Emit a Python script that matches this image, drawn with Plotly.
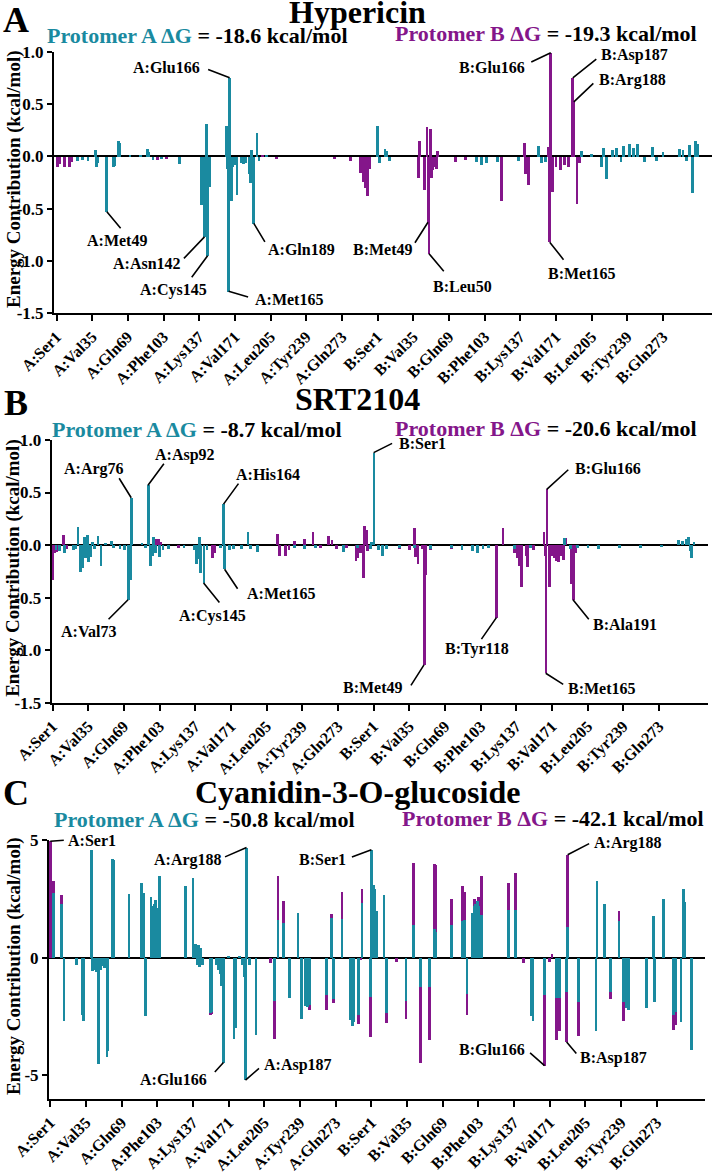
import plotly.graph_objects as go

W, H = 714, 1172
TEAL = "#1a8aa0"
PURPLE = "#84168a"
FONT = "Liberation Serif"

# residue ticks (every 34 residues, chain A then chain B)
tick_pos = list(range(0, 579, 34))
tick_text = ["A:Ser1", "A:Val35", "A:Gln69", "A:Phe103", "A:Lys137", "A:Val171",
             "A:Leu205", "A:Tyr239", "A:Gln273", "B:Ser1", "B:Val35", "B:Gln69",
             "B:Phe103", "B:Lys137", "B:Val171", "B:Leu205", "B:Tyr239", "B:Gln273"]

# (residue index, kcal/mol) -- index 0..305 chain A, 306..611 chain B
hyp_protA = [(20, -0.04), (25, -0.03), (30, -0.04), (37, 0.06), (38, -0.10), (39, -0.06),
             (48, -0.53), (54, -0.10), (55, -0.09), (59, 0.15), (60, 0.13), (70, 0.02),
             (80, 0.02), (87, 0.07), (88, 0.04), (92, -0.03), (100, -0.02), (117, -0.07),
             (138, -0.46), (140, -0.30), (141, -0.77), (143, 0.31), (144, -0.95), (146, -0.29),
             (162, 0.29), (163, -0.12), (164, -1.29), (165, 0.75), (167, -0.42), (168, -0.10),
             (170, -0.08), (172, -0.37), (176, -0.06), (178, -0.07), (180, -0.06), (184, -0.17),
             (185, -0.25), (186, 0.06), (188, -0.64), (191, 0.23), (193, -0.04), (200, 0.02),
             (306, 0.29), (308, -0.06), (313, 0.07), (315, 0.05), (317, -0.04), (400, -0.05),
             (405, -0.08), (410, -0.06), (420, -0.05), (440, -0.04), (459, 0.10), (462, -0.06),
             (466, -0.05), (500, 0.05), (510, 0.03), (519, -0.10), (521, 0.08), (524, -0.21),
             (530, 0.06), (534, 0.08), (538, -0.05), (540, 0.10), (546, 0.12), (550, 0.08),
             (554, 0.12), (560, -0.05), (568, 0.09), (572, -0.04), (578, 0.04), (594, 0.07),
             (597, 0.06), (600, -0.04), (603, 0.11), (606, -0.35), (609, 0.15), (611, 0.12)]
hyp_protB = [(1, -0.10), (3, -0.07), (8, -0.10), (12, -0.10), (14, -0.05), (96, -0.03),
             (105, -0.02), (196, 0.02), (210, -0.02), (265, -0.02), (280, -0.04),
             (290, -0.16), (292, -0.24), (294, -0.30), (296, -0.38), (298, -0.12),
             (345, -0.20), (346, 0.15), (351, -0.32), (353, 0.28), (354, -0.63), (355, -0.93),
             (356, 0.26), (357, -0.20), (358, -0.13), (360, -0.10), (362, -0.12), (363, 0.05),
             (380, -0.05), (390, -0.03), (424, -0.42), (440, -0.04), (446, 0.13), (447, -0.17),
             (450, -0.27), (469, 0.09), (470, -0.82), (471, 0.99), (473, -0.34), (476, -0.10),
             (480, -0.13), (484, -0.08), (488, -0.10), (492, 0.75), (493, 0.52), (496, -0.45),
             (498, -0.06)]

srt_protA = [(3, -0.05), (6, -0.06), (11, -0.08), (20, -0.05), (22, -0.04), (24, 0.17),
             (26, -0.26), (28, -0.22), (30, 0.08), (31, -0.12), (33, 0.10), (34, -0.16),
             (36, -0.11), (38, 0.03), (40, -0.04), (43, 0.09), (46, -0.20), (50, 0.02),
             (56, 0.04), (58, -0.03), (64, -0.04), (68, -0.05), (72, -0.52), (74, -0.33),
             (75, 0.45), (85, 0.02), (88, -0.03), (91, 0.57), (93, -0.20), (95, -0.10),
             (96, 0.08), (98, -0.08), (102, -0.11), (105, -0.05), (110, -0.04), (125, -0.03),
             (135, -0.05), (137, -0.18), (139, -0.13), (140, 0.08), (141, -0.27), (144, -0.36),
             (147, -0.05), (160, -0.03), (163, 0.39), (164, -0.23), (168, -0.05), (172, -0.04),
             (180, -0.04), (186, 0.12), (188, -0.04), (195, -0.07), (230, -0.03), (240, -0.04),
             (250, -0.03), (277, -0.07), (290, -0.03), (303, -0.04), (304, 0.03), (306, 0.88),
             (310, -0.05), (314, -0.10), (318, -0.04), (330, -0.03), (345, -0.03), (360, -0.04),
             (380, -0.03), (390, -0.05), (400, -0.06), (405, -0.08), (410, -0.04), (415, -0.03),
             (440, -0.04), (455, -0.03), (488, 0.07), (493, -0.04), (500, -0.03), (510, -0.03),
             (520, -0.04), (540, -0.03), (560, -0.03), (580, -0.02), (596, 0.05), (600, 0.04),
             (604, 0.06), (606, 0.08), (608, -0.06), (609, -0.12), (611, 0.03)]
srt_protB = [(0, -0.33), (2, -0.08), (4, -0.07), (6, -0.06), (10, 0.10), (13, -0.04),
             (99, 0.06), (101, 0.06), (103, 0.03), (120, -0.03), (152, -0.12), (154, -0.08),
             (214, 0.11), (216, -0.10), (222, -0.10), (225, -0.05), (230, 0.04), (240, 0.06),
             (248, 0.12), (255, -0.03), (263, 0.09), (266, 0.05), (270, -0.04), (280, -0.03),
             (289, -0.15), (290, -0.12), (293, -0.08), (296, -0.31), (297, 0.18), (299, 0.14),
             (300, -0.06), (330, -0.04), (340, -0.05), (345, 0.16), (346, -0.11), (348, -0.18),
             (352, -0.04), (354, -1.14), (355, -0.28), (360, -0.05), (380, -0.04), (400, -0.04),
             (423, -0.69), (429, 0.16), (440, -0.08), (443, -0.12), (445, -0.20), (447, -0.40),
             (451, -0.10), (452, -0.21), (458, -0.05), (468, 0.12), (469, -0.10), (470, -1.22),
             (471, 0.53), (473, -0.40), (476, -0.10), (478, -0.12), (480, -0.15), (482, -0.16),
             (485, -0.10), (487, -0.14), (489, 0.07), (494, -0.37), (496, -0.52), (498, -0.08)]

cya_protA = [(3, 2.75), (11, 2.30), (13, -2.70), (25, -0.30), (31, -2.45), (32, -2.70),
             (39, 4.58), (40, -0.55), (41, -0.50), (43, -0.45), (44, -0.60), (46, -4.50),
             (48, -0.50), (50, -0.35), (52, -0.45), (54, -4.20), (55, -3.95), (59, 4.20),
             (60, 4.15), (75, 2.70), (87, 3.17), (89, 2.75), (91, -2.48), (96, 2.56),
             (97, 2.18), (98, 1.97), (99, 2.30), (100, 2.46), (101, 2.00), (102, 2.10),
             (104, 3.49), (129, 3.03), (136, 3.38), (138, 0.60), (139, 0.55), (140, -0.30),
             (141, 0.56), (142, -0.40), (143, 0.40), (145, -0.30), (153, -2.35), (154, -2.30),
             (158, -0.30), (160, -0.50), (162, -0.70), (163, -1.20), (165, -4.45), (170, 0.05),
             (175, -3.45), (177, -3.00), (180, 0.08), (183, -0.30), (185, -0.80), (186, -5.20),
             (187, 4.68), (190, -0.30), (196, -3.30), (214, -1.85), (217, 1.59), (222, 1.49),
             (228, -1.72), (236, 1.92), (239, -2.60), (243, -2.07), (245, -2.10), (247, -2.00),
             (263, -1.60), (268, 1.70), (270, -1.75), (278, 1.63), (286, -2.65), (288, -2.90),
             (289, -2.75), (294, -2.42), (297, 2.34), (305, -1.65), (306, 4.59), (308, 3.07),
             (309, 2.90), (311, 2.00), (318, 2.68), (320, -2.35), (339, -1.84), (346, 1.41),
             (353, -1.23), (361, -1.23), (366, 1.24), (367, 1.10), (382, 1.38), (393, 1.55),
             (395, 1.60), (397, -1.54), (402, 1.90), (404, 2.20), (405, 2.30), (406, 2.25),
             (407, 2.40), (408, 2.20), (411, 1.80), (437, 2.01), (443, 2.01), (458, -2.49),
             (460, -2.68), (471, -1.60), (482, -1.72), (485, -1.72), (492, -1.44), (493, 1.31),
             (503, -1.86), (520, -3.13), (521, 3.28), (528, 2.30), (534, -1.44), (542, 1.55),
             (546, -1.86), (549, -2.14), (551, -2.20), (568, -2.14), (575, 1.77), (576, -1.86),
             (584, 2.48), (594, -2.42), (596, -2.30), (601, -2.73), (603, 2.93), (604, 2.35),
             (611, -3.93)]
cya_protB = [(0, 4.95), (3, 3.25), (11, 2.65), (153, -2.45), (154, -2.40), (190, -0.10),
             (210, -0.24), (214, -3.45), (217, 3.46), (222, 2.41), (247, -2.21), (263, -2.24),
             (268, 1.85), (270, -1.93), (278, 2.79), (294, -2.80), (296, -0.10), (297, 2.93),
             (305, -3.37), (309, 2.86), (320, -2.77), (330, -0.17), (339, -2.60), (346, 4.01),
             (353, -4.46), (361, -3.50), (366, 3.99), (367, 3.92), (382, 2.51), (393, 3.03),
             (395, 2.79), (397, -2.42), (404, 2.50), (406, 2.30), (408, 2.60), (411, 3.46),
             (437, 3.18), (443, 3.61), (451, -0.24), (471, -4.58), (476, -0.20), (478, 0.14),
             (482, -3.50), (485, -3.13), (492, -3.58), (493, 4.37), (503, -3.34), (534, -1.76),
             (542, 1.99), (546, -2.70), (594, -3.08), (596, -2.85)]

# labelled residues: text, series, residue index, leader start (px from bar end), text centre (px)
hyp_labels = [("A:Glu166", "A", 165, (-23, -9), (-63, -10)),
              ("B:Glu166", "B", 471, (-21, 10), (-59, 15)),
              ("B:Asp187", "B", 492, (25, -20), (62, -23)),
              ("B:Arg188", "B", 493, (21, -20), (59, -22)),
              ("A:Met49", "A", 48, (15, 18), (10, 29)),
              ("A:Asn142", "A", 141, (-22, 23), (-57, 27)),
              ("A:Cys145", "A", 144, (-17, 23), (-34, 34)),
              ("A:Met165", "A", 164, (21, 6), (60, 8)),
              ("A:Gln189", "A", 188, (12, 20), (48, 26)),
              ("B:Met49", "B", 354, (-14, 22), (-45, 27)),
              ("B:Leu50", "B", 355, (16, 19), (33, 33)),
              ("B:Met165", "B", 470, (15, 19), (32, 31))]
srt_labels = [("A:Arg76", "A", 75, (-13, -21), (-37, -29)),
              ("A:Asp92", "A", 91, (17, -23), (37, -30)),
              ("A:His164", "A", 163, (16, -22), (44, -30)),
              ("B:Ser1", "A", 306, (20, -10), (49, -9)),
              ("B:Glu166", "B", 471, (23, -21), (61, -21)),
              ("A:Val73", "A", 72, (-21, 21), (-40, 32)),
              ("A:Cys145", "A", 144, (17, 21), (9, 33)),
              ("A:Met165", "A", 164, (14, 21), (56, 24)),
              ("B:Met49", "B", 354, (-14, 22), (-51, 23)),
              ("B:Tyr118", "B", 423, (-16, 23), (-19, 31)),
              ("B:Met165", "B", 470, (19, 12), (56, 15)),
              ("B:Ala191", "B", 496, (17, 21), (52, 25))]
cya_labels = [("A:Ser1", "B", 0, (15, -1), (42, -1)),
              ("A:Arg188", "A", 187, (-23, 10), (-59, 12)),
              ("B:Ser1", "A", 306, (-21, 8), (-49, 10)),
              ("A:Arg188", "B", 493, (23, -12), (60, -12)),
              ("A:Glu166", "A", 165, (-10, 11), (-50, 17)),
              ("A:Asp187", "A", 186, (15, -13), (53, -15)),
              ("B:Glu166", "B", 471, (-16, -14), (-53, -16)),
              ("B:Asp187", "B", 492, (11, 13), (47, 16))]

panels = [
    dict(name="Hypericin", letter="A", a=hyp_protA, b=hyp_protB, labels=hyp_labels,
         dga="-18.6", dgb="-19.3", xpx=(54, 712), x0=56.5, ypx=(51.7, 313.3), yr=(-1.5, 1.0),
         yt=[-1.5, -1.0, -0.5, 0.0, 0.5, 1.0], title_y=12.5, letter_y=20, sub_y=(35.5, 34),
         sub_x=(197, 546)),
    dict(name="SRT2104", letter="B", a=srt_protA, b=srt_protB, labels=srt_labels,
         dga="-8.7", dgb="-20.6", xpx=(51.7, 708), x0=52.5, ypx=(440, 702.7), yr=(-1.5, 1.0),
         yt=[-1.5, -1.0, -0.5, 0.0, 0.5, 1.0], title_y=399, letter_y=403, sub_y=(429.5, 429),
         sub_x=(197, 546)),
    dict(name="Cyanidin-3-O-glucoside", letter="C", a=cya_protA, b=cya_protB, labels=cya_labels,
         dga="-50.8", dgb="-42.1", xpx=(49, 705), x0=50.3, ypx=(840, 1099), yr=(-6, 5),
         yt=[-5, 0, 5], title_y=791.5, letter_y=793, sub_y=(819, 818.5),
         sub_x=(205, 553)),
]

PX_PER_RES = 1.0494


def px(x):
    return x / W


def py(y):
    return 1 - y / H


def bold(s):
    return "<b>" + s + "</b>"


fig = go.Figure()
annotations = []
layout_axes = {}

for k, p in enumerate(panels):
    n = "" if k == 0 else str(k + 1)
    xa, ya = "x" + n, "y" + n
    for series, color in (("b", PURPLE), ("a", TEAL)):
        pts = p[series]
        fig.add_trace(go.Bar(x=[q[0] for q in pts], y=[q[1] for q in pts], width=2.7,
                             marker=dict(color=color, line=dict(width=0)),
                             xaxis=xa, yaxis=ya, showlegend=False))

    l, r = p["xpx"]
    top, bot = p["ypx"]
    xr = [(l - p["x0"]) / PX_PER_RES, (r - p["x0"]) / PX_PER_RES]
    ytxt = [("%.1f" % v) if p["yr"][1] < 2 else "%d" % v for v in p["yt"]]
    tf = dict(family=FONT, size=17, color="black", weight="bold")
    layout_axes["xaxis" + n] = dict(
        domain=[px(l), px(r)], range=xr, anchor=ya, showgrid=False, zeroline=False,
        showline=True, linecolor="black", linewidth=2, ticks="outside", ticklen=6,
        tickwidth=2, tickcolor="black", tickvals=tick_pos, ticktext=tick_text,
        tickangle=-45, tickfont=dict(family=FONT, size=16, color="black", weight="bold"),
        layer="above traces", fixedrange=True, automargin=False)
    layout_axes["yaxis" + n] = dict(
        domain=[py(bot), py(top)], range=list(p["yr"]), anchor=xa, showgrid=False,
        zeroline=True, zerolinecolor="black", zerolinewidth=2, showline=True,
        linecolor="black", linewidth=2, ticks="outside", ticklen=5, tickwidth=2,
        tickcolor="black", tickvals=p["yt"], ticktext=ytxt, tickfont=tf,
        layer="above traces", fixedrange=True, automargin=False)

    # panel title, letter, protomer energies
    annotations.append(dict(text=bold(p["name"]), x=px(357), y=py(p["title_y"]), xref="paper",
                            yref="paper", showarrow=False, xanchor="center", yanchor="middle",
                            font=dict(family=FONT, size=32, color="black")))
    annotations.append(dict(text=bold(p["letter"]), x=px(15.5), y=py(p["letter_y"]),
                            xref="paper", yref="paper", showarrow=False, xanchor="center",
                            yanchor="middle", font=dict(family=FONT, size=36, color="black")))
    for prot, color, dg, sx, sy in (("A", TEAL, p["dga"], p["sub_x"][0], p["sub_y"][0]),
                                    ("B", PURPLE, p["dgb"], p["sub_x"][1], p["sub_y"][1])):
        txt = ("<b><span style='color:%s'>Protomer %s \u0394G</span> = %s kcal/mol</b>"
               % (color, prot, dg))
        annotations.append(dict(text=txt, x=px(sx), y=py(sy), xref="paper", yref="paper",
                                showarrow=False, xanchor="center", yanchor="middle",
                                font=dict(family=FONT, size=22, color="black")))
    annotations.append(dict(text=bold("Energy Contribution (kcal/mol)"), x=px(13.5),
                            y=py((top + bot) / 2 - 3), xref="paper", yref="paper",
                            showarrow=False, textangle=-90, xanchor="center", yanchor="middle",
                            font=dict(family=FONT, size=19, color="black")))

    # residue labels with leader lines
    for text, series, idx, (lx, ly), (tx, ty) in p["labels"]:
        val = dict(p[series.lower()])[idx]
        annotations.append(dict(x=idx, y=val, xref=xa, yref=ya, text="", showarrow=True,
                                ax=lx, ay=ly, arrowhead=0, arrowwidth=1.6, arrowcolor="black",
                                standoff=0, startstandoff=0))
        annotations.append(dict(x=idx, y=val, xref=xa, yref=ya, text=bold(text),
                                showarrow=False, xshift=tx, yshift=-ty, xanchor="center",
                                yanchor="middle",
                                font=dict(family=FONT, size=16, color="black")))

fig.update_layout(width=W, height=H, margin=dict(l=0, r=0, t=0, b=0, autoexpand=False),
                  paper_bgcolor="white", plot_bgcolor="white", barmode="overlay",
                  bargap=0, annotations=annotations, **layout_axes)

# drop the page's default 8px body margin so the figure starts at the window corner
fig.write_html("out.html", config={"displayModeBar": False},
               post_script="document.body.style.margin='0';"
                           "document.body.style.overflow='hidden';")
